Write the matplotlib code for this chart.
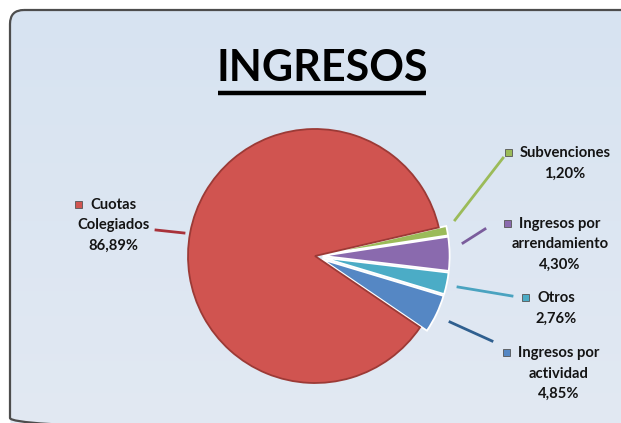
import matplotlib
matplotlib.use("Agg")
import matplotlib.pyplot as plt
from matplotlib.patches import FancyBboxPatch, Rectangle
import numpy as np

# ---- data ----
categories = ["Subvenciones", "Ingresos por arrendamiento", "Otros",
              "Ingresos por actividad", "Cuotas Colegiados"]
values = [1.20, 4.30, 2.76, 4.85, 86.89]
value_labels = ["1,20%", "4,30%", "2,76%", "4,85%", "86,89%"]
label_lines = [["Subvenciones"], ["Ingresos por", "arrendamiento"], ["Otros"],
               ["Ingresos por", "actividad"], ["Cuotas", "Colegiados"]]
colors = ["#9bbb59", "#8a6aae", "#4bacc6", "#5587c4", "#d05450"]
edge_colors = ["white", "white", "white", "white", "#9c3a36"]
line_colors = ["#9bbb59", "#7a5c9c", "#4aa3c0", "#2f5f8f", "#a8323a"]
explode = [0.06, 0.06, 0.06, 0.06, 0.0]

W, H = 621, 423
FONT = "Lato"

fig = plt.figure(figsize=(W / 100, H / 100), dpi=100)
fig.patch.set_facecolor("white")

# background axes in pixel coordinates
bg = fig.add_axes([0, 0, 1, 1])
bg.set_xlim(0, W)
bg.set_ylim(H, 0)
bg.axis("off")

box = FancyBboxPatch((10, 10), 650, 422, boxstyle="round,pad=0,rounding_size=14",
                     facecolor="none", edgecolor="#4d4d4d", linewidth=1.6, zorder=3)
bg.add_patch(box)
grad = np.linspace(0, 1, 256).reshape(-1, 1)
c_top = np.array([215, 227, 241]) / 255
c_bot = np.array([226, 233, 243]) / 255
img = c_top[None, None, :] * (1 - grad[:, :, None]) + c_bot[None, None, :] * grad[:, :, None]
im = bg.imshow(img, extent=(10, 660, 432, 10), aspect="auto", zorder=1)
im.set_clip_path(box)

# title
t = bg.text(322, 68, "INGRESOS", ha="center", va="center", fontsize=31,
            fontweight="bold", family=FONT, color="black", zorder=5)
fig.canvas.draw()
bb = t.get_window_extent().transformed(bg.transData.inverted())
x0, x1 = min(bb.x0, bb.x1), max(bb.x0, bb.x1)
bg.plot([x0 + 2, x1 - 2], [93, 93], color="black", lw=3.2, solid_capstyle="butt", zorder=5)

# pie axes: center (315, 256) px, radius 127 px
cx, cy, R = 315, 256, 127
lim = 1.25
side = 2 * lim * R
pax = fig.add_axes([(cx - side / 2) / W, (H - cy - side / 2) / H, side / W, side / H])
pax.set_xlim(-lim, lim)
pax.set_ylim(-lim, lim)
pax.set_aspect("equal")
pax.axis("off")
pax.patch.set_alpha(0)
wedges, _ = pax.pie(values, colors=colors, explode=explode, startangle=13,
                    counterclock=False, radius=1.0,
                    wedgeprops=dict(linewidth=1.3))
for w, ec in zip(wedges, edge_colors):
    w.set_edgecolor(ec)
pax.set_xlim(-lim, lim)
pax.set_ylim(-lim, lim)

# labels (pixel positions)
label_pos = [(565, 153), (560, 224), (556, 298), (559, 353), (113, 205)]
line_gap = 20.5
leaders = [((455, 220), (503, 158)), ((463, 243), (485, 229)),
           ((458, 287), (512, 296)), ((450, 322), (492, 341)),
           ((156, 230), (184, 233))]
fs = 10.6
for i, (lines, vl) in enumerate(zip(label_lines, value_labels)):
    x, y = label_pos[i]
    all_lines = lines + [vl]
    for j, s in enumerate(all_lines):
        tt = bg.text(x, y + j * line_gap, s, ha="center", va="center", fontsize=fs,
                     fontweight="bold", family=FONT, color="#141414", zorder=5)
        if j == 0:
            fig.canvas.draw()
            b = tt.get_window_extent().transformed(bg.transData.inverted())
            left = min(b.x0, b.x1)
            sq = 7
            bg.add_patch(Rectangle((left - 15, y - sq / 2), sq, sq, facecolor=colors[i],
                                   edgecolor="#555555", linewidth=0.6, zorder=5))
    (a, b2) = leaders[i]
    bg.plot([a[0], b2[0]], [a[1], b2[1]], color=line_colors[i], lw=2.0, zorder=4)

fig.savefig("out.png", dpi=100)
